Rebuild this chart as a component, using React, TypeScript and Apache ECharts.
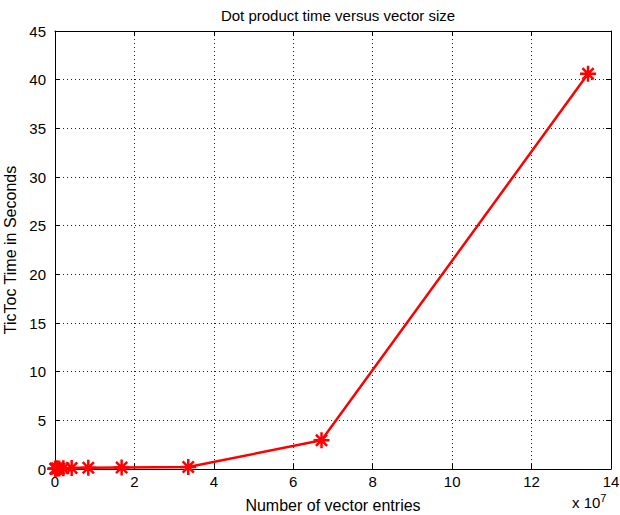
import React, { useEffect, useRef } from "react";
import * as echarts from "echarts";

const vectorSizes = [
  65536, 131072, 262144, 524288, 1048576, 2097152, 4194304, 8388608,
  16777216, 33554432, 67108864, 134217728,
];
const ticTocSeconds = [
  0.02, 0.03, 0.04, 0.05, 0.06, 0.08, 0.1, 0.12, 0.15, 0.2, 2.95, 40.6,
];
const yTicks = [0, 5, 10, 15, 20, 25, 30, 35, 40, 45];
const xTickLabels = ["0", "2", "4", "6", "8", "10", "12", "14"];

const FONT = "Arial, 'Liberation Sans', sans-serif";
const asterisk =
  "path://M0 -10 L0 10 M-10 0 L10 0 M-7 -7 L7 7 M-7 7 L7 -7";

export default function App() {
  const ref = useRef<HTMLDivElement>(null);
  useEffect(() => {
    document.body.style.margin = "0";
    if (!ref.current) return;
    const chart = echarts.init(ref.current, null, { renderer: "svg" });
    const gridLine = { show: true, lineStyle: { color: "#222", type: [1, 3], width: 1 } };
    const axisLine = { show: true, onZero: false, lineStyle: { color: "#000", width: 1 } };
    chart.setOption({
      animation: false,
      backgroundColor: "#fff",
      title: {
        text: "Dot product time versus vector size",
        left: 333,
        textAlign: "center",
        top: 3,
        textStyle: { fontFamily: FONT, fontSize: 15, fontWeight: "normal", color: "#000" },
      },
      grid: { left: 55, right: 9, top: 31, bottom: 46, containLabel: false, outerBoundsMode: "none" },
      xAxis: [
        {
          type: "value",
          min: 0,
          max: 14e7,
          interval: 2e7,
          name: "Number of vector entries",
          nameLocation: "middle",
          nameGap: 28,
          nameTextStyle: { fontFamily: FONT, fontSize: 16, color: "#000" },
          axisLine,
          axisTick: { show: true, inside: true, length: 5, lineStyle: { color: "#000" } },
          axisLabel: {
            fontFamily: FONT,
            fontSize: 15,
            color: "#000",
            margin: 5,
            formatter: (v: number) => xTickLabels[Math.round(v / 2e7)] ?? "",
          },
          splitLine: gridLine,
        },
        {
          type: "value",
          position: "top",
          min: 0,
          max: 14e7,
          interval: 2e7,
          axisLine,
          axisTick: { show: true, inside: true, length: 5, lineStyle: { color: "#000" } },
          axisLabel: { show: false },
          splitLine: { show: false },
        },
      ],
      yAxis: [
        {
          type: "value",
          min: yTicks[0],
          max: yTicks[yTicks.length - 1],
          interval: 5,
          name: "TicToc Time in Seconds",
          nameLocation: "middle",
          nameGap: 32,
          nameTextStyle: { fontFamily: FONT, fontSize: 16, color: "#000" },
          axisLine,
          axisTick: { show: true, inside: true, length: 5, lineStyle: { color: "#000" } },
          axisLabel: { fontFamily: FONT, fontSize: 15, color: "#000", margin: 9 },
          splitLine: gridLine,
        },
        {
          type: "value",
          position: "right",
          min: 0,
          max: 45,
          interval: 5,
          axisLine,
          axisTick: { show: true, inside: true, length: 5, lineStyle: { color: "#000" } },
          axisLabel: { show: false },
          splitLine: { show: false },
        },
      ],
      graphic: [
        {
          type: "text",
          left: 572,
          top: 492,
          style: {
            text: "x 10{s|7}",
            rich: { s: { fontSize: 11, fontFamily: FONT, verticalAlign: "top", padding: [0, 0, 9, 0] } },
            fontFamily: FONT,
            fontSize: 15,
            fill: "#000",
          },
        },
      ],
      series: [
        {
          type: "line",
          data: vectorSizes.map((v, i) => [v, ticTocSeconds[i]]),
          lineStyle: { color: "#ff0000", width: 2.5 },
          itemStyle: { color: "none", borderColor: "#ff0000", borderWidth: 2.5 },
          symbol: asterisk,
          symbolSize: 16,
          showAllSymbol: true,
          clip: false,
        },
      ],
    });
    return () => chart.dispose();
  }, []);
  return <div ref={ref} style={{ width: 620, height: 515 }} />;
}
